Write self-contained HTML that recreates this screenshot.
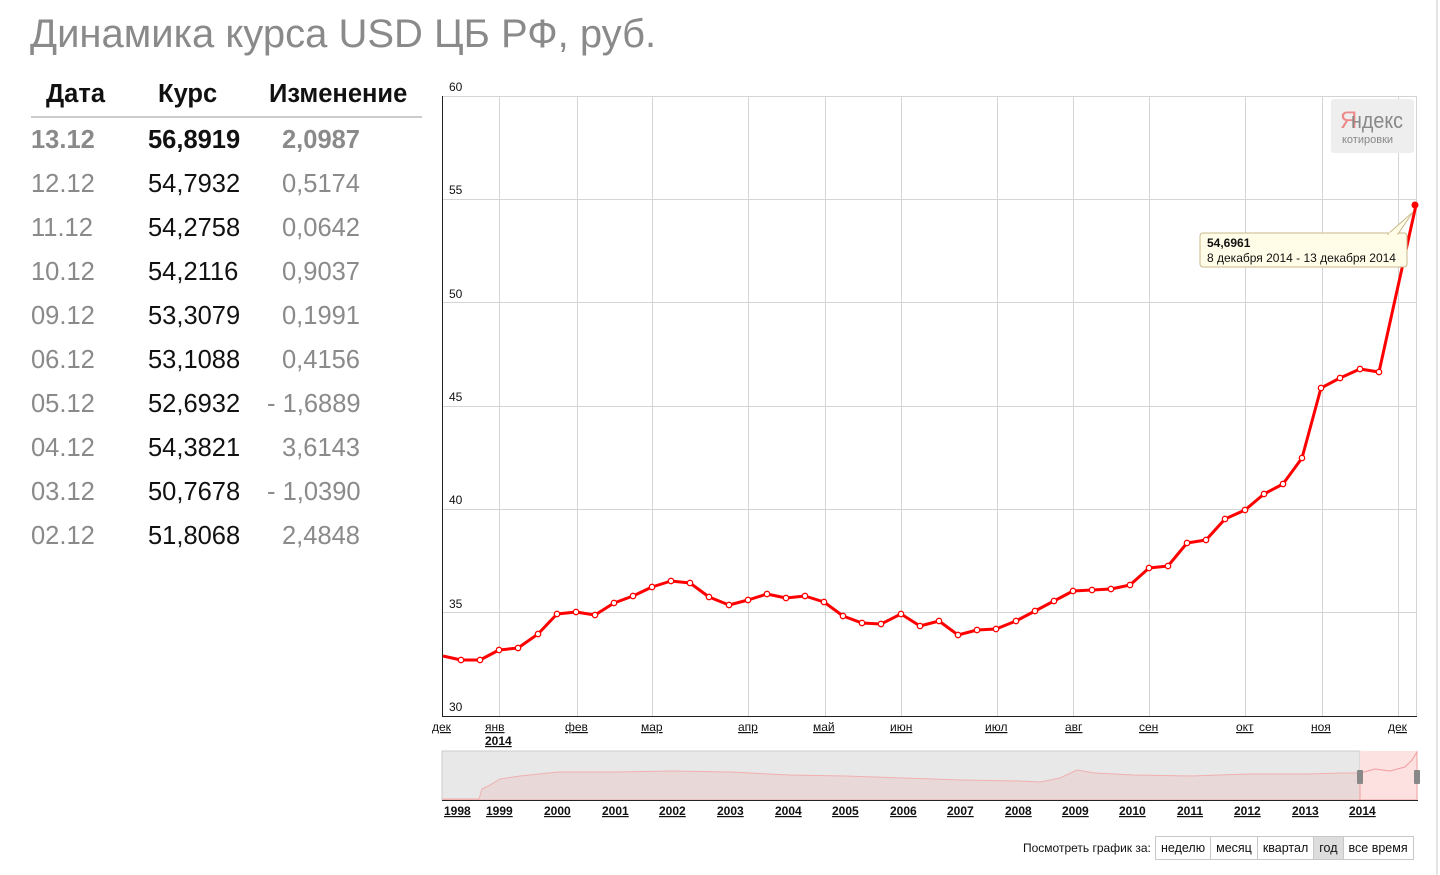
<!DOCTYPE html>
<html><head><meta charset="utf-8"><style>
body{margin:0;width:1440px;height:875px;background:#fff;font-family:"Liberation Sans",sans-serif;position:relative;overflow:hidden}
.t{position:absolute;white-space:nowrap}
.title{left:30px;top:12px;font-size:40px;color:#8a8a8a}
.h{font-size:25.5px;font-weight:bold;color:#111;top:80px}
.r{font-size:25.5px;color:#8a8a8a}
.k{color:#111}
.ax{font-family:"Liberation Sans",sans-serif;font-size:12px;fill:#111}
.btns{position:absolute;left:1155px;top:836px;display:flex;border:1px solid #c8c8c8;font-size:12.5px}
.btns div{padding:4px 5px;border-left:1px solid #c8c8c8;color:#111}
.btns div:first-child{border-left:none}
</style></head><body>
<div class="t title">Динамика курса USD ЦБ РФ, руб.</div>
<div class="t h" style="left:46px">Дата</div>
<div class="t h" style="left:158px">Курс</div>
<div class="t h" style="left:269px">Изменение</div>
<div style="position:absolute;left:31px;top:116px;width:391px;height:2px;background:#ccc"></div>
<div class="t r" style="left:31px;top:126px;font-weight:bold">13.12</div><div class="t r k" style="left:148px;top:126px;font-weight:bold">56,8919</div><div class="t r" style="left:282px;top:126px;font-weight:bold">2,0987</div>
<div class="t r" style="left:31px;top:170px">12.12</div><div class="t r k" style="left:148px;top:170px">54,7932</div><div class="t r" style="left:282px;top:170px">0,5174</div>
<div class="t r" style="left:31px;top:214px">11.12</div><div class="t r k" style="left:148px;top:214px">54,2758</div><div class="t r" style="left:282px;top:214px">0,0642</div>
<div class="t r" style="left:31px;top:258px">10.12</div><div class="t r k" style="left:148px;top:258px">54,2116</div><div class="t r" style="left:282px;top:258px">0,9037</div>
<div class="t r" style="left:31px;top:302px">09.12</div><div class="t r k" style="left:148px;top:302px">53,3079</div><div class="t r" style="left:282px;top:302px">0,1991</div>
<div class="t r" style="left:31px;top:346px">06.12</div><div class="t r k" style="left:148px;top:346px">53,1088</div><div class="t r" style="left:282px;top:346px">0,4156</div>
<div class="t r" style="left:31px;top:390px">05.12</div><div class="t r k" style="left:148px;top:390px">52,6932</div><div class="t r" style="left:267px;top:390px">- 1,6889</div>
<div class="t r" style="left:31px;top:434px">04.12</div><div class="t r k" style="left:148px;top:434px">54,3821</div><div class="t r" style="left:282px;top:434px">3,6143</div>
<div class="t r" style="left:31px;top:478px">03.12</div><div class="t r k" style="left:148px;top:478px">50,7678</div><div class="t r" style="left:267px;top:478px">- 1,0390</div>
<div class="t r" style="left:31px;top:522px">02.12</div><div class="t r k" style="left:148px;top:522px">51,8068</div><div class="t r" style="left:282px;top:522px">2,4848</div>
<div style="position:absolute;left:1436px;top:0;width:2px;height:875px;background:#e4e4e4"></div>
<svg width="1440" height="875" style="position:absolute;left:0;top:0">
<g stroke="#d4d4d4" stroke-width="1">
<line x1="443" y1="96.5" x2="1416" y2="96.5"/><line x1="443" y1="199.5" x2="1416" y2="199.5"/><line x1="443" y1="302.5" x2="1416" y2="302.5"/><line x1="443" y1="406.5" x2="1416" y2="406.5"/><line x1="443" y1="509.5" x2="1416" y2="509.5"/><line x1="443" y1="612.5" x2="1416" y2="612.5"/>
<line x1="499.5" y1="96" x2="499.5" y2="716"/><line x1="577.5" y1="96" x2="577.5" y2="716"/><line x1="652.5" y1="96" x2="652.5" y2="716"/><line x1="748.5" y1="96" x2="748.5" y2="716"/><line x1="825.5" y1="96" x2="825.5" y2="716"/><line x1="901.5" y1="96" x2="901.5" y2="716"/><line x1="997.5" y1="96" x2="997.5" y2="716"/><line x1="1073.5" y1="96" x2="1073.5" y2="716"/><line x1="1149.5" y1="96" x2="1149.5" y2="716"/><line x1="1245.5" y1="96" x2="1245.5" y2="716"/><line x1="1322.5" y1="96" x2="1322.5" y2="716"/><line x1="1398.5" y1="96" x2="1398.5" y2="716"/><line x1="1416.5" y1="96" x2="1416.5" y2="716"/>
</g>
<line x1="442.5" y1="96" x2="442.5" y2="717" stroke="#222"/><line x1="442" y1="716.5" x2="1417" y2="716.5" stroke="#222"/>
<g class="ax"><text x="449" y="91">60</text><text x="449" y="194">55</text><text x="449" y="298">50</text><text x="449" y="401">45</text><text x="449" y="504">40</text><text x="449" y="608">35</text><text x="449" y="711">30</text></g>
<rect x="1331" y="99" width="83" height="54" rx="3" fill="#eee"/>
<text x="1340" y="128" font-size="24" fill="#e88" font-family="Liberation Sans Narrow,Liberation Sans,sans-serif" textLength="10">Я</text>
<text x="1351" y="128" font-size="22" fill="#888" font-family="Liberation Sans,sans-serif" textLength="52" lengthAdjust="spacingAndGlyphs">ндекс</text>
<text x="1342" y="143" font-size="11" fill="#888">котировки</text>
<polyline fill="none" stroke="#f00" stroke-width="3" stroke-linejoin="round" points="443,656 461,660 480,660 499,650 518,648 538,634 557,614 576,612 595,615 614,603 633,596 652,587 671,581 690,583 709,597 729,605 748,600 767,594 786,598 805,596 824,602 843,616 862,623 881,624 901,614 920,626 939,621 958,635 977,630 996,629 1016,621 1035,611 1054,601 1073,591 1092,590 1111,589 1130,585 1149,568 1168,566 1187,543 1206,540 1225,519 1245,510 1264,494 1283,484 1302,458 1321,388 1340,378 1360,369 1379,372 1416,205"/>
<g fill="#fff" stroke="#f00" stroke-width="1.3">
<circle cx="461" cy="660" r="2.7"/><circle cx="480" cy="660" r="2.7"/><circle cx="499" cy="650" r="2.7"/><circle cx="518" cy="648" r="2.7"/><circle cx="538" cy="634" r="2.7"/><circle cx="557" cy="614" r="2.7"/><circle cx="576" cy="612" r="2.7"/><circle cx="595" cy="615" r="2.7"/><circle cx="614" cy="603" r="2.7"/><circle cx="633" cy="596" r="2.7"/><circle cx="652" cy="587" r="2.7"/><circle cx="671" cy="581" r="2.7"/><circle cx="690" cy="583" r="2.7"/><circle cx="709" cy="597" r="2.7"/><circle cx="729" cy="605" r="2.7"/><circle cx="748" cy="600" r="2.7"/><circle cx="767" cy="594" r="2.7"/><circle cx="786" cy="598" r="2.7"/><circle cx="805" cy="596" r="2.7"/><circle cx="824" cy="602" r="2.7"/><circle cx="843" cy="616" r="2.7"/><circle cx="862" cy="623" r="2.7"/><circle cx="881" cy="624" r="2.7"/><circle cx="901" cy="614" r="2.7"/><circle cx="920" cy="626" r="2.7"/><circle cx="939" cy="621" r="2.7"/><circle cx="958" cy="635" r="2.7"/><circle cx="977" cy="630" r="2.7"/><circle cx="996" cy="629" r="2.7"/><circle cx="1016" cy="621" r="2.7"/><circle cx="1035" cy="611" r="2.7"/><circle cx="1054" cy="601" r="2.7"/><circle cx="1073" cy="591" r="2.7"/><circle cx="1092" cy="590" r="2.7"/><circle cx="1111" cy="589" r="2.7"/><circle cx="1130" cy="585" r="2.7"/><circle cx="1149" cy="568" r="2.7"/><circle cx="1168" cy="566" r="2.7"/><circle cx="1187" cy="543" r="2.7"/><circle cx="1206" cy="540" r="2.7"/><circle cx="1225" cy="519" r="2.7"/><circle cx="1245" cy="510" r="2.7"/><circle cx="1264" cy="494" r="2.7"/><circle cx="1283" cy="484" r="2.7"/><circle cx="1302" cy="458" r="2.7"/><circle cx="1321" cy="388" r="2.7"/><circle cx="1340" cy="378" r="2.7"/><circle cx="1360" cy="369" r="2.7"/><circle cx="1379" cy="372" r="2.7"/>
</g>
<circle cx="1415" cy="205" r="3.5" fill="#f00"/>
<path d="M1203,233 H1404 a3,3 0 0 1 3,3 V264 a3,3 0 0 1 -3,3 H1203 a3,3 0 0 1 -3,-3 V236 a3,3 0 0 1 3,-3 Z" fill="#fffde8" stroke="#c8b88a"/>
<path d="M1388,234 L1413,212 L1398,234 Z" fill="#fffde8" stroke="#c8b88a"/>
<line x1="1389" y1="233.5" x2="1397" y2="233.5" stroke="#fffde8" stroke-width="2"/>
<text x="1207" y="247" font-size="12" font-weight="bold" fill="#111">54,6961</text>
<text x="1207" y="262" font-size="12" fill="#111">8 декабря 2014 - 13 декабря 2014</text>
<g class="ax" text-decoration="underline"><text x="432" y="731">дек</text><text x="485" y="731">янв</text><text x="485" y="745" font-weight="bold">2014</text><text x="565" y="731">фев</text><text x="641" y="731">мар</text><text x="738" y="731">апр</text><text x="813" y="731">май</text><text x="890" y="731">июн</text><text x="985" y="731">июл</text><text x="1065" y="731">авг</text><text x="1139" y="731">сен</text><text x="1236" y="731">окт</text><text x="1311" y="731">ноя</text><text x="1388" y="731">дек</text></g>
<rect x="442" y="751" width="918" height="49" fill="#e8e8e8" stroke="#ccc"/>
<rect x="1360" y="751" width="57" height="49" fill="#fde2e2"/>
<path d="M443,799 L479,799 L482,789 L490,785 L500,779 L520,776 L558,772 L616,772 L673,771 L731,772 L789,775 L846,776 L904,778 L962,780 L1020,781 L1040,782 L1060,778 L1077,770 L1095,773 L1133,775 L1191,776 L1248,774 L1306,774 L1340,773 L1360,773 L1375,769 L1390,771 L1405,767 L1412,760 L1417,752 L1417,800 L443,800 Z" fill="#e8d8d8" stroke="#f0b0b0"/>
<path d="M1360,800 L1360,773 L1375,769 L1390,771 L1405,767 L1412,760 L1417,752 L1417,800 Z" fill="#fde0e0" stroke="#f0a0a0"/>
<line x1="442" y1="800.5" x2="1418" y2="800.5" stroke="#222"/>
<rect x="1357" y="770" width="6" height="14" rx="1" fill="#888"/><rect x="1414" y="770" width="6" height="14" rx="1" fill="#888"/>
<g class="ax" font-weight="bold" text-decoration="underline"><text x="444" y="815">1998</text><text x="486" y="815">1999</text><text x="544" y="815">2000</text><text x="602" y="815">2001</text><text x="659" y="815">2002</text><text x="717" y="815">2003</text><text x="775" y="815">2004</text><text x="832" y="815">2005</text><text x="890" y="815">2006</text><text x="947" y="815">2007</text><text x="1005" y="815">2008</text><text x="1062" y="815">2009</text><text x="1119" y="815">2010</text><text x="1177" y="815">2011</text><text x="1234" y="815">2012</text><text x="1292" y="815">2013</text><text x="1349" y="815">2014</text></g>
<text x="1023" y="852" font-size="12" fill="#111">Посмотреть график за:</text>
</svg>
<div class="btns"><div>неделю</div><div>месяц</div><div>квартал</div><div style="background:#ddd">год</div><div>все время</div></div>
</body></html>
